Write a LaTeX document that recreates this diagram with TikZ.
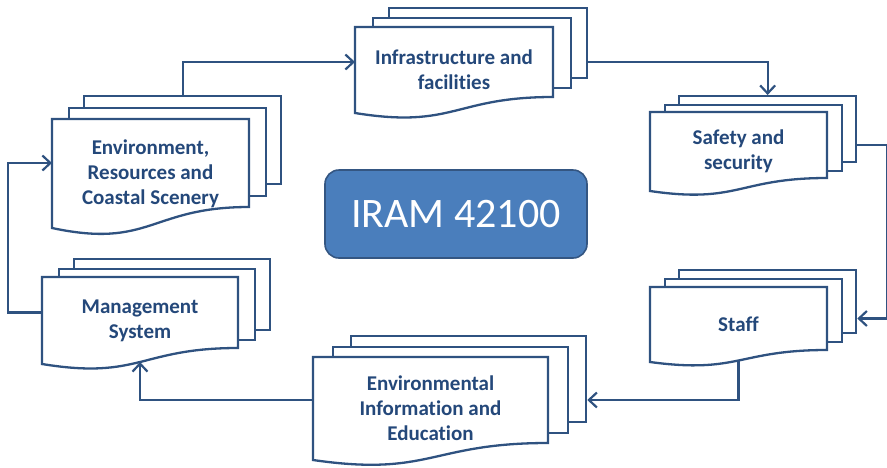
\documentclass[tikz,border=0pt]{standalone}
\usepackage{fontspec}
\setmainfont{Carlito}[Ligatures=NoCommon]
\usetikzlibrary{arrows.meta}

\definecolor{edgeblue}{RGB}{47,82,128}
\definecolor{labelblue}{RGB}{36,72,122}
\definecolor{corefill}{RGB}{74,126,188}
\definecolor{coreedge}{RGB}{52,86,130}

\tikzset{
  sheet/.style={draw=edgeblue, line width=2.3pt, fill=white},
  sheetbox/.style={sheet, rectangle, inner sep=0pt, anchor=north west},
  sheettext/.style={text=labelblue, font=\fontsize{21}{25}\selectfont\bfseries,
    align=center, inner sep=0pt},
  link/.style={draw=edgeblue, line width=2.2pt,
    -{Straight Barb[length=8pt,width=15pt]}},
  core/.style={rectangle, rounded corners=14pt, fill=corefill, draw=coreedge,
    line width=1.6pt, minimum width=262pt, minimum height=88pt,
    text=white, font=\fontsize{42}{50}\selectfont},
}

% Stack of three sheets with a wavy bottom on the front one.
% #1 name, #2 left, #3 top, #4 width, #5 height of the straight part,
% #6 depth of the wave, #7 x offset, #8 y offset, #9 text
\newcommand\docstack[9]{%
  \node[sheetbox, minimum width=#4pt, minimum height=#5pt]
    (#1B) at (#2+2*#7, #3-2*#8) {};
  \node[sheetbox, minimum width=#4pt, minimum height=#5pt]
    (#1M) at (#2+#7, #3-#8) {};
  \draw[sheet] (#2,#3) -- (#2+#4,#3) -- (#2+#4,#3+#5)
    .. controls (#2+#4/2,#3+#5) and (#2+#4/2,#3+#5+2*#6) .. (#2,#3+#5+#6)
    -- cycle;
  \node[sheettext] (#1F) at (#2+#4/2, #3+#5/2+#6/2) {#9};
  \coordinate (#1-w) at (#2, #3+#5/2);
  \coordinate (#1-wave) at (#2+#4/2, #3+#5+0.875*#6);
}

\begin{document}
\begin{tikzpicture}[x=1pt, y=-1pt]
\useasboundingbox (0,0) rectangle (887,467);

\docstack{infra}{355}{27}{198}{70}{16}{16.5}{10}{Infrastructure and\\facilities}
\docstack{safety}{650}{112}{177}{66}{13}{14}{8.5}{Safety and\\security}
\docstack{staff}{650}{287}{177}{63}{12}{14}{9}{Staff}
\docstack{info}{313}{357}{235}{86}{17}{18.5}{11}{Environmental\\Information and\\Education}
\docstack{mgmt}{42}{277}{196}{71}{16}{15.5}{9.5}{Management\\System}
\docstack{env}{52}{119}{197}{88}{21}{15.5}{12}{Environment,\\Resources and\\Coastal Scenery}

\node[core] (iram) at (456,214) {IRAM 42100};

% cycle of connectors
\coordinate (eastrail) at (887.3,0);
\coordinate (westrail) at (8,0);
\draw[link] (envB.north) |- (infra-w);
\draw[link] (infraB.east |- infra-w) -| (safetyB.north);
\draw[link] (safetyB.east |- safety-w) -- (eastrail |- safety-w)
  -- (eastrail |- staff-w) -- (staffB.east |- staff-w);
\draw[link] (staff-wave) |- (infoB.east |- info-w);
\draw[link] (info-w) -| (mgmt-wave);
\draw[link] (mgmt-w) -- (westrail |- mgmt-w) -- (westrail |- env-w) -- (env-w);
\end{tikzpicture}
\end{document}
